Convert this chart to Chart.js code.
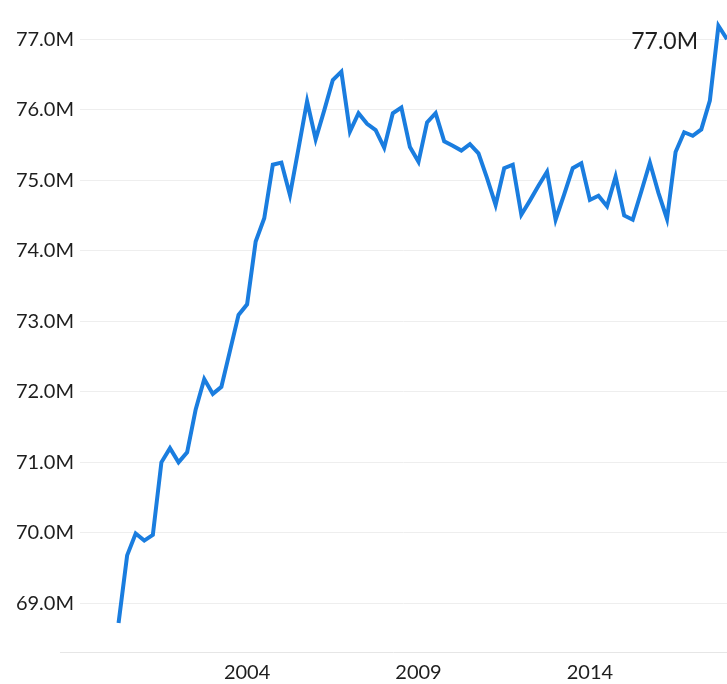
<!DOCTYPE html>
<html>
<head>
<meta charset="utf-8">
<script src="https://cdn.jsdelivr.net/npm/chart.js@4"></script>
<style>
  html, body { margin: 0; padding: 0; background: #fff; }
  #wrap { width: 727px; height: 684px; }
</style>
</head>
<body>
<div id="wrap"><canvas id="lineChart"></canvas></div>
<script>
// quarterly series, values in millions
var quarters = [
  '2000-Q2','2000-Q3','2000-Q4',
  '2001-Q1','2001-Q2','2001-Q3','2001-Q4',
  '2002-Q1','2002-Q2','2002-Q3','2002-Q4',
  '2003-Q1','2003-Q2','2003-Q3','2003-Q4',
  '2004-Q1','2004-Q2','2004-Q3','2004-Q4',
  '2005-Q1','2005-Q2','2005-Q3','2005-Q4',
  '2006-Q1','2006-Q2','2006-Q3','2006-Q4',
  '2007-Q1','2007-Q2','2007-Q3','2007-Q4',
  '2008-Q1','2008-Q2','2008-Q3','2008-Q4',
  '2009-Q1','2009-Q2','2009-Q3','2009-Q4',
  '2010-Q1','2010-Q2','2010-Q3','2010-Q4',
  '2011-Q1','2011-Q2','2011-Q3','2011-Q4',
  '2012-Q1','2012-Q2','2012-Q3','2012-Q4',
  '2013-Q1','2013-Q2','2013-Q3','2013-Q4',
  '2014-Q1','2014-Q2','2014-Q3','2014-Q4',
  '2015-Q1','2015-Q2','2015-Q3','2015-Q4',
  '2016-Q1','2016-Q2','2016-Q3','2016-Q4',
  '2017-Q1','2017-Q2','2017-Q3','2017-Q4',
  '2018-Q1'
];

var values = [
  68.72, 69.68, 69.99, 69.89, 69.97, 71.00, 71.20, 71.00, 71.14, 71.75,
  72.18, 71.97, 72.07, 72.58, 73.09, 73.24, 74.13, 74.46, 75.22, 75.25,
  74.79, 75.45, 76.12, 75.58, 75.99, 76.42, 76.54, 75.69, 75.95, 75.80,
  75.71, 75.46, 75.95, 76.03, 75.47, 75.26, 75.82, 75.95, 75.55, 75.49,
  75.42, 75.51, 75.38, 75.03, 74.65, 75.17, 75.22, 74.51, 74.71, 74.92,
  75.12, 74.44, 74.80, 75.17, 75.24, 74.72, 74.78, 74.63, 75.05, 74.50,
  74.44, 74.84, 75.25, 74.82, 74.45, 75.40, 75.68, 75.63, 75.72, 76.13,
  77.19, 77.00
];

var yTicks = [69, 70, 71, 72, 73, 74, 75, 76, 77];
var xTickLabels = ['2004', '2009', '2014'];

var textColor = '#1e1e1e';
var fontFamily = 'Lato, "Open Sans", sans-serif';

function fmtM(v) {
  return v.toFixed(1) + 'M';
}

// baseline under the plot, running a bit past the left edge
var baseRule = {
  id: 'baseRule',
  beforeDatasetsDraw: function(chart) {
    var a = chart.chartArea;
    var ctx = chart.ctx;
    ctx.save();
    ctx.strokeStyle = '#e6e6e6';
    ctx.lineWidth = 1;
    ctx.beginPath();
    ctx.moveTo(a.left - 20, a.bottom + 0.5);
    ctx.lineTo(a.right, a.bottom + 0.5);
    ctx.stroke();
    ctx.restore();
  }
};

// writes the latest value just left of the line's last point
var endLabel = {
  id: 'endLabel',
  afterDatasetsDraw: function(chart) {
    var meta = chart.getDatasetMeta(0);
    var last = meta.data[meta.data.length - 1];
    var ctx = chart.ctx;
    ctx.save();
    ctx.font = '23px ' + fontFamily;
    ctx.fillStyle = textColor;
    ctx.textAlign = 'right';
    ctx.textBaseline = 'middle';
    ctx.fillText(fmtM(values[values.length - 1]), last.x - 29, last.y + 2);
    ctx.restore();
  }
};

var ctx = document.getElementById('lineChart').getContext('2d');
var myChart = new Chart(ctx, {
  type: 'line',
  data: {
    datasets: [{
      data: values.map(function(v, i) { return { x: i, y: v }; }),
      borderColor: '#1a7ddf',
      borderWidth: 4,
      pointRadius: 0,
      tension: 0,
      fill: false
    }]
  },
  options: {
    responsive: true,
    maintainAspectRatio: false,
    animation: false,
    layout: { padding: { top: 16, left: 0, right: 0, bottom: 0 } },
    plugins: {
      legend: { display: false },
      tooltip: { enabled: false }
    },
    scales: {
      x: {
        type: 'linear',
        min: -4.5,
        max: quarters.length - 1,
        grid: { display: false },
        border: { display: false },
        afterBuildTicks: function(axis) {
          axis.ticks = xTickLabels.map(function(y) {
            return { value: quarters.indexOf(y + '-Q1') };
          });
        },
        afterFit: function(axis) { axis.height = 32; },
        ticks: {
          autoSkip: false,
          maxRotation: 0,
          padding: 1,
          color: textColor,
          font: { family: fontFamily, size: 20 },
          callback: function(val) { return quarters[val].slice(0, 4); }
        }
      },
      y: {
        min: 68.31,
        max: 77.3,
        grid: { color: '#eeeeee', drawTicks: false, lineWidth: 1 },
        border: { display: false },
        afterBuildTicks: function(axis) {
          axis.ticks = yTicks.map(function(v) { return { value: v }; });
        },
        afterFit: function(axis) { axis.width = 80; },
        ticks: {
          padding: 6,
          color: textColor,
          font: { family: fontFamily, size: 20 },
          callback: function(val) { return fmtM(val); }
        }
      }
    }
  },
  plugins: [baseRule, endLabel]
});
</script>
</body>
</html>
